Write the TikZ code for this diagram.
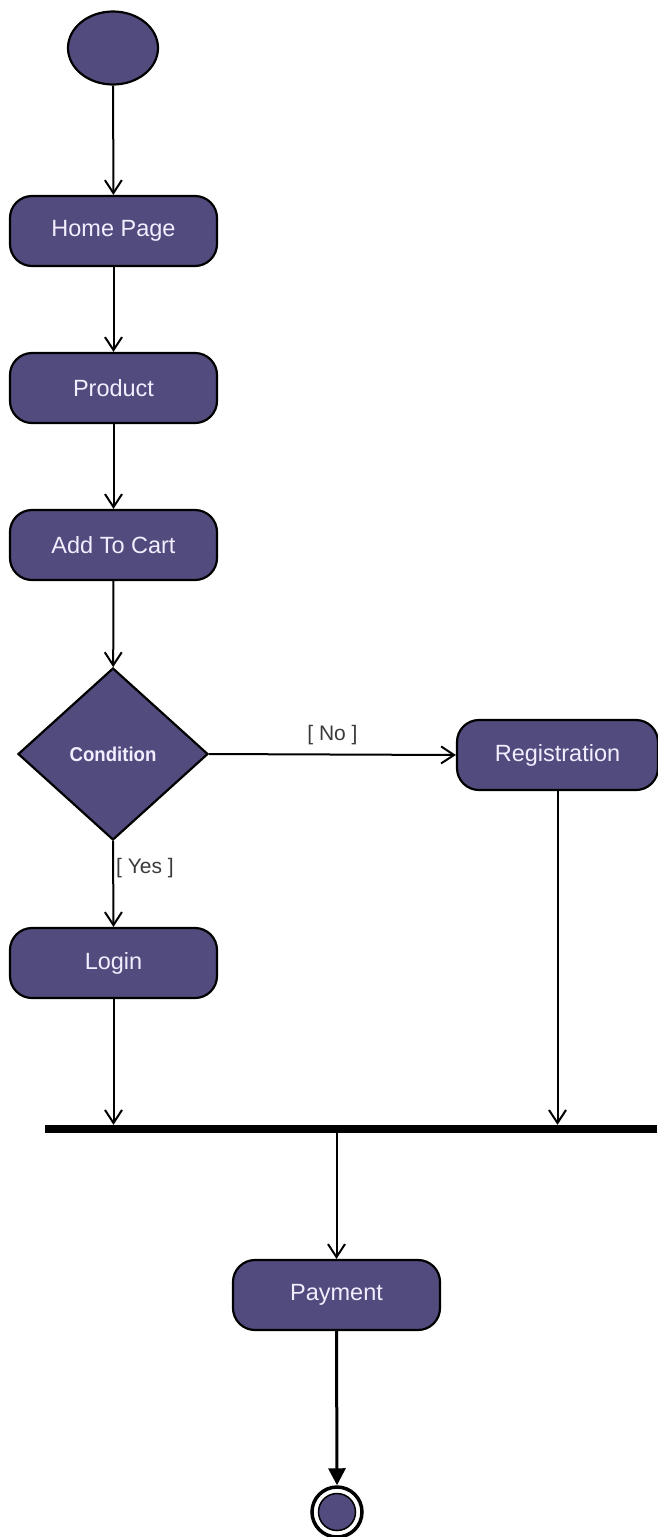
\documentclass[tikz,border=0pt]{standalone}
\usepackage{fontspec}
\setmainfont{Liberation Sans}
\usetikzlibrary{arrows.meta,shapes.geometric}
\definecolor{actfill}{HTML}{514B7E}
\definecolor{acttext}{HTML}{F2EEFF}
\definecolor{guardtext}{HTML}{3A3A3A}
\tikzset{
  activity/.style={draw=black, line width=2.2pt, fill=actfill, rounded corners=22pt,
    minimum width=207pt, minimum height=70pt, inner sep=0pt, text=acttext,
    font=\fontsize{23.5}{28}\selectfont},
  decision/.style={diamond, draw=black, line width=2.2pt, fill=actfill,
    minimum width=190pt, minimum height=172pt, inner sep=0pt, text=acttext,
    font=\bfseries\fontsize{20}{24}\selectfont},
  flow/.style={draw=black, line width=2pt, -{Straight Barb[length=13pt,width=17pt,line width=2pt]}},
  guard/.style={text=guardtext, font=\fontsize{21}{25}\selectfont, inner sep=0pt},
  forkbar/.style={fill=black, draw=none, inner sep=0pt, minimum width=612pt, minimum height=8pt},
}
\begin{document}
\begin{tikzpicture}[x=1pt, y=-1pt]
  \useasboundingbox (0,0) rectangle (657,1537);

  % initial node
  \node (start) [ellipse, draw=black, line width=2.2pt, fill=actfill,
    minimum width=90pt, minimum height=73pt, inner sep=0pt] at (113,48) {};

  % activities
  \node (home)    [activity] at (113.5,231) {Home Page};
  \node (product) [activity] at (113.5,388) {Product};
  \node (cart)    [activity] at (113.5,545) {Add To Cart};
  \node (cond)    [decision] at (113,754) {\scalebox{0.93}[1]{Condition}};
  \node (reg)     [activity, minimum width=201pt] at (557.5,755) {Registration};
  \node (login)   [activity] at (113.5,963) {Login};
  \node (bar)     [forkbar] at (351,1129) {};
  \node (pay)     [activity] at (336.5,1295) {Payment};

  % final node
  \node (endout) [circle, draw=black, line width=3.5pt, fill=white,
    minimum size=50pt, inner sep=0pt] at (337,1512) {};
  \node (endin) [circle, draw=black, line width=1.5pt, fill=actfill,
    minimum size=37pt, inner sep=0pt] at (337,1512) {};

  % control flows
  \draw[flow] (start) -- (home);
  \draw[flow] (home) -- (product);
  \draw[flow] (product) -- (cart);
  \draw[flow] (cart) -- (cond);
  \draw[flow] (cond.east) -- node[guard, above=9pt] {[ No ]} (reg.west);
  \draw[flow] (cond.south) -- (login.north);
  \node[guard, anchor=west] at (116,868) {[ Yes ]};
  \draw[flow] (login.south) -- (login.south |- bar.north);
  \draw[flow] (reg.south) -- (reg.south |- bar.north);
  \draw[flow] (pay.north |- bar.south) -- (pay.north);
  \draw[draw=black, line width=3pt, -{Triangle[length=17pt,width=17pt]}] (pay.south) -- (endout.north);
\end{tikzpicture}
\end{document}
